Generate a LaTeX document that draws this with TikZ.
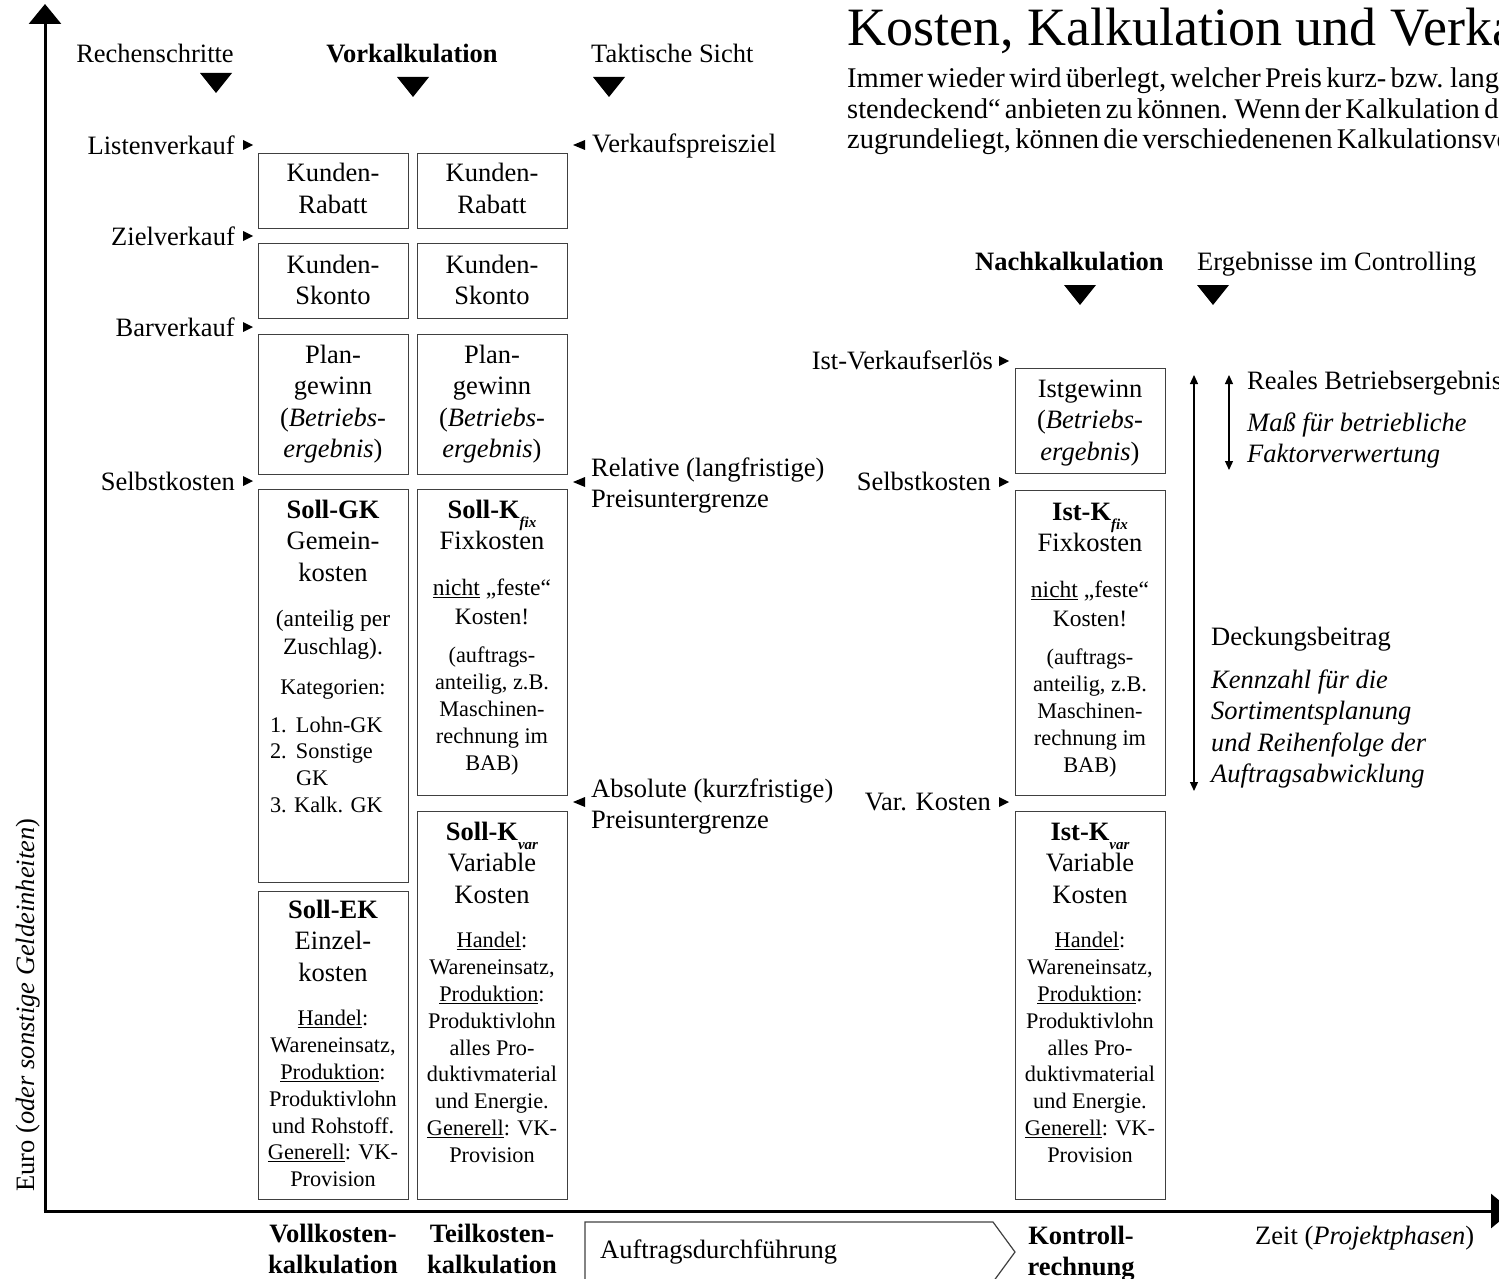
\documentclass[tikz,border=0pt]{standalone}
\usepackage{fontspec}
\setmainfont{Liberation Serif}
\usetikzlibrary{arrows.meta}

% type sizes
\newcommand\fsBig{\fontsize{26.5}{31.5}\selectfont}
\newcommand\fsMid{\fontsize{23.5}{28.5}\selectfont}
\newcommand\fsSmall{\fontsize{22.3}{26.8}\selectfont}
\newcommand\fsIntro{\fontsize{28.5}{30}\selectfont\spaceskip=0.15em plus 0.05em}
\newcommand\lowsub[1]{\raisebox{-9pt}{\fontsize{15}{15}\selectfont\itshape #1}}
\newcommand\colblock[2]{\begin{minipage}[t]{#1}\centering #2\end{minipage}}
\newcommand\leftblock[2]{\begin{minipage}[t]{#1}\raggedright #2\end{minipage}}

% box contents
\newcommand\gewinnbody[1]{{\fsBig #1\\(\textit{Betriebs-}\\\textit{ergebnis})\par}}
\newcommand\kfixbody[1]{%
  {\fsBig{\bfseries #1-K\lowsub{fix}}\\Fixkosten\par}%
  \vspace{17.5pt}%
  {\fsMid\underline{nicht} „feste“\\Kosten!\par}%
  \vspace{12pt}%
  {\fsSmall(auftrags-\\anteilig, z.B.\\Maschinen-\\rechnung im\\BAB)\par}}
\newcommand\kvarbody[1]{%
  {\fsBig{\bfseries #1-K\lowsub{var}}\\Variable\\Kosten\par}%
  \vspace{18pt}%
  {\fsSmall\underline{Handel}:\\Wareneinsatz,\\\underline{Produktion}:\\Produktivlohn\\alles Pro-\\duktivmaterial\\und Energie.\\\underline{Generell}: VK-\\Provision\par}}
\newcommand\gkbody{%
  {\fsBig{\bfseries Soll-GK}\\Gemein-\\kosten\par}%
  \vspace{16.5pt}%
  {\fsMid(anteilig per\\Zuschlag).\par}%
  \vspace{13pt}%
  {\fsSmall Kategorien:\par}%
  \vspace{11pt}%
  {\fsSmall\raggedright\leftskip=12pt
   \makebox[26pt][l]{1.}Lohn-GK\\\makebox[26pt][l]{2.}Sonstige\\\hspace*{26pt}GK\\3. Kalk. GK\par}}
\newcommand\ekbody{%
  {\fsBig{\bfseries Soll-EK}\\Einzel-\\kosten\par}%
  \vspace{18pt}%
  {\fsSmall\underline{Handel}:\\Wareneinsatz,\\\underline{Produktion}:\\Produktivlohn\\und Rohstoff.\\\underline{Generell}: VK-\\Provision\par}}

\tikzset{
  costbox/.style={draw=black!75, line width=1.2pt, inner sep=0pt, anchor=north west, minimum width=150pt},
  txt/.style={inner sep=0pt, anchor=base},
  lbl/.style={inner sep=0pt, font=\fsBig},
  marker/.style={fill=black},
  axis/.style={line width=3pt},
  span/.style={line width=1.2pt, {Triangle[length=9pt,width=8pt]}-{Triangle[length=9pt,width=8pt]}},
}

\begin{document}
\begin{tikzpicture}[x=1pt,y=-1pt]
\useasboundingbox (0,0) rectangle (1499,1279);

% ---------- axes ----------
\coordinate (origin) at (45,1211);
\coordinate (ytop) at (45,4);
\coordinate (xend) at (1512,1211);
\draw[axis, -{Triangle[length=20pt,width=32pt]}] (origin) -- (ytop);
\draw[axis, -{Triangle[length=21pt,width=34pt]}] ([xshift=-1.5pt]origin) -- (xend);
\node[lbl, rotate=90, anchor=base] (euro) at (34,1005) {Euro (\textit{oder sonstige Geldeinheiten})};
\node[lbl, anchor=base west] (zeit) at (1255,1244) {Zeit (\textit{Projektphasen})};

% ---------- title and intro ----------
\node[inner sep=0pt, anchor=base west, font=\fontsize{54}{54}\selectfont] (title) at (847,46) {Kosten, Kalkulation und Verkaufspreis};
\begin{scope}[every node/.style={inner sep=0pt, anchor=base west, font=\fsIntro}]
\node (introA) at (847,88) {Immer wieder wird überlegt, welcher Preis kurz- bzw. langfristig};
\node (introB) at (847,119) {stendeckend“ anbieten zu können. Wenn der Kalkulation die};
\node (introC) at (847,149) {zugrundeliegt, können die verschiedenenen Kalkulationsverfahren};
\end{scope}

% ---------- column headings ----------
\node[lbl, anchor=base] (hRech) at (155,63) {Rechenschritte};
\node[lbl, anchor=base] (hVor) at (412,63) {\bfseries Vorkalkulation};
\node[lbl, anchor=base west] (hTak) at (591,63) {Taktische Sicht};
\node[lbl, anchor=base west] (hNach) at (975,270) {\bfseries Nachkalkulation};
\node[lbl, anchor=base west] (hErg) at (1197,270) {Ergebnisse im Controlling};
\foreach \cx/\ty in {216/73, 413/77, 609/77, 1080/285, 1213/285}
  \fill[marker] (\cx-16,\ty) -- (\cx+16,\ty) -- (\cx,\ty+20) -- cycle;

% ---------- calculation steps (left) ----------
\node[lbl, anchor=base east] (lListe) at (235,154) {Listenverkauf};
\node[lbl, anchor=base east] (lZiel) at (235,245) {Zielverkauf};
\node[lbl, anchor=base east] (lBar) at (235,336) {Barverkauf};
\node[lbl, anchor=base east] (lSelbst) at (235,490) {Selbstkosten};
\foreach \ty in {145,236,327,481}
  \fill[marker] (243,\ty-5) -- (253,\ty) -- (243,\ty+5) -- cycle;

% ---------- Vorkalkulation boxes ----------
\node[costbox, minimum height=75pt] (rab1) at (258,153) {};
\node[costbox, minimum height=75pt] (rab2) at (417,153) {};
\node[costbox, minimum height=75pt] (sko1) at (258,243) {};
\node[costbox, minimum height=75pt] (sko2) at (417,243) {};
\node[costbox, minimum height=140pt] (gew1) at (258,334) {};
\node[costbox, minimum height=140pt] (gew2) at (417,334) {};
\node[costbox, minimum height=393pt] (gk) at (258,489) {};
\node[costbox, minimum height=306pt] (kfix1) at (417,489) {};
\node[costbox, minimum height=308pt] (ek) at (258,891) {};
\node[costbox, minimum height=388pt] (kvar1) at (417,811) {};

\node[txt] (rab1t) at (333,182) {\colblock{150pt}{\fsBig Kunden-\\Rabatt\par}};
\node[txt] (rab2t) at (492,182) {\colblock{150pt}{\fsBig Kunden-\\Rabatt\par}};
\node[txt] (sko1t) at (333,273) {\colblock{150pt}{\fsBig Kunden-\\Skonto\par}};
\node[txt] (sko2t) at (492,273) {\colblock{150pt}{\fsBig Kunden-\\Skonto\par}};
\node[txt] (gew1t) at (333,363) {\colblock{150pt}{\gewinnbody{Plan-\\gewinn}}};
\node[txt] (gew2t) at (492,363) {\colblock{150pt}{\gewinnbody{Plan-\\gewinn}}};
\node[txt] (gkt) at (333,518) {\colblock{150pt}{\gkbody}};
\node[txt] (kfix1t) at (492,518) {\colblock{150pt}{\kfixbody{Soll}}};
\node[txt] (ekt) at (333,918) {\colblock{150pt}{\ekbody}};
\node[txt] (kvar1t) at (492,840) {\colblock{150pt}{\kvarbody{Soll}}};

% ---------- tactical view ----------
\node[lbl, anchor=base west] (tZiel) at (592,153) {Verkaufspreisziel};
\node[txt, anchor=base west] (tRel) at (591,476) {\leftblock{250pt}{\fsBig Relative (langfristige)\\Preisuntergrenze\par}};
\node[txt, anchor=base west] (tAbs) at (591,797) {\leftblock{250pt}{\fsBig Absolute (kurzfristige)\\Preisuntergrenze\par}};
\foreach \ty in {145,482,802}
  \fill[marker] (585,\ty-5) -- (573,\ty) -- (585,\ty+5) -- cycle;

% ---------- Nachkalkulation ----------
\node[lbl, anchor=base east] (rErl) at (993,369) {Ist-Verkaufserlös};
\node[lbl, anchor=base east] (rSelbst) at (991,490) {Selbstkosten};
\node[lbl, anchor=base east] (rVar) at (991,810) {Var. Kosten};
\foreach \ty in {361,482,802}
  \fill[marker] (999,\ty-5) -- (1009,\ty) -- (999,\ty+5) -- cycle;

\node[costbox, minimum height=105pt] (ist) at (1015,368) {};
\node[costbox, minimum height=305pt] (kfix2) at (1015,490) {};
\node[costbox, minimum height=388pt] (kvar2) at (1015,811) {};
\node[txt] (istt) at (1090,397) {\colblock{150pt}{\gewinnbody{Istgewinn}}};
\node[txt] (kfix2t) at (1090,520) {\colblock{150pt}{\kfixbody{Ist}}};
\node[txt] (kvar2t) at (1090,840) {\colblock{150pt}{\kvarbody{Ist}}};

% ---------- results in controlling ----------
\coordinate (dbTop) at (1194,375);
\coordinate (dbBot) at (1194,791);
\coordinate (beTop) at (1229,375);
\coordinate (beBot) at (1229,470);
\draw[span] (dbTop) -- (dbBot);
\draw[span] (beTop) -- (beBot);
\node[lbl, anchor=base west] (cReal) at (1247,389) {Reales Betriebsergebnis};
\node[txt, anchor=base west] (cMass) at (1247,431) {\leftblock{260pt}{\fsBig\itshape Maß für betriebliche\\Faktorverwertung\par}};
\node[lbl, anchor=base west] (cDeck) at (1211,645) {Deckungsbeitrag};
\node[txt, anchor=base west] (cKenn) at (1211,688) {\leftblock{290pt}{\fsBig\itshape Kennzahl für die\\Sortimentsplanung\\und Reihenfolge der\\Auftragsabwicklung\par}};

% ---------- project phases ----------
\node[txt] (pVoll) at (333,1242) {\colblock{170pt}{\fsBig\bfseries Vollkosten-\\kalkulation\par}};
\node[txt] (pTeil) at (492,1242) {\colblock{170pt}{\fsBig\bfseries Teilkosten-\\kalkulation\par}};
\draw[draw=black!75, line width=1.2pt] (585,1292) -- (585,1222) -- (993,1222) -- (1015,1252) -- (993,1282);
\node[lbl, anchor=base west] (pAuf) at (600,1258) {Auftragsdurchführung};
\node[txt] (pKon) at (1081,1244) {\colblock{170pt}{\fsBig\bfseries Kontroll-\\rechnung\par}};

\end{tikzpicture}
\end{document}
